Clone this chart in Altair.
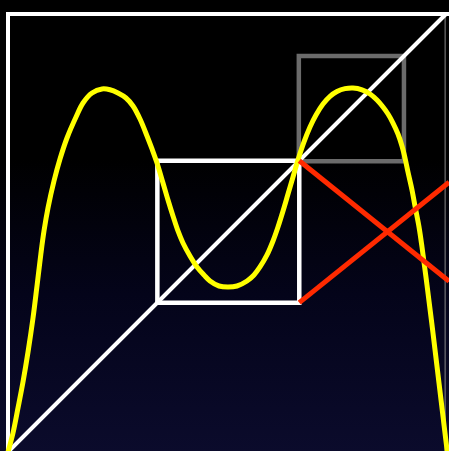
import altair as alt
import pandas as pd

# Double-humped map sampled along its graph (x in [0, 1], y in [0, 1])
curve_x = [0.0, 0.0114, 0.0228, 0.0342, 0.0457, 0.0571, 0.0662, 0.0753, 0.0822,
           0.0913, 0.1050, 0.1187, 0.1347, 0.1553, 0.1712, 0.1918, 0.2146, 0.2329,
           0.2511, 0.2694, 0.2854, 0.3014, 0.3174, 0.3288, 0.3402, 0.3539, 0.3653,
           0.3767, 0.3881, 0.3995, 0.4155, 0.4315, 0.4475, 0.4612, 0.4817, 0.5023,
           0.5228, 0.5457, 0.5616, 0.5753, 0.5913, 0.6050, 0.6164, 0.6279, 0.6393,
           0.6507, 0.6621, 0.6758, 0.6895, 0.7032, 0.7192, 0.7352, 0.7511, 0.7694,
           0.7877, 0.8082, 0.8265, 0.8425, 0.8562, 0.8676, 0.8790, 0.8904, 0.8995,
           0.9064, 0.9132, 0.9224, 0.9292, 0.9384, 0.9452, 0.9566, 0.9703, 0.9840,
           0.9977, 1.0030]
curve_y = [0.0, 0.0434, 0.1005, 0.1598, 0.2283, 0.3059, 0.3790, 0.4543, 0.5046,
           0.5571, 0.6187, 0.6689, 0.7169, 0.7648, 0.7968, 0.8196, 0.8288, 0.8270,
           0.8196, 0.8082, 0.7900, 0.7603, 0.7215, 0.6918, 0.6598, 0.6142, 0.5753,
           0.5388, 0.5046, 0.4772, 0.4475, 0.4224, 0.4041, 0.3904, 0.3790, 0.3767,
           0.3790, 0.3904, 0.4041, 0.4224, 0.4498, 0.4817, 0.5137, 0.5502, 0.5890,
           0.6279, 0.6667, 0.7078, 0.7420, 0.7694, 0.7945, 0.8120, 0.8230, 0.8295,
           0.8311, 0.8270, 0.8174, 0.8037, 0.7877, 0.7717, 0.7511, 0.7260, 0.6986,
           0.6712, 0.6393, 0.5982, 0.5616, 0.5137, 0.4680, 0.3813, 0.2717, 0.1575,
           0.0434, 0.0]

# Boxes: inner (white) and upper-right (grey), as [lo, hi] on both axes
inner_box = [0.341, 0.665]
upper_box = [0.664, 0.904]

# Flipped-diagonal guides from the inner box's right corners
red_x = [0.665, 1.007]
red_a_y = [0.665, 0.390]
red_b_y = [0.341, 0.616]

SIZE = 438
X = alt.Scale(domain=[0, 1])
Y = alt.Scale(domain=[0, 1])


def box_df(lo, hi):
    return pd.DataFrame({
        "x": [lo, hi, hi, lo, lo],
        "y": [lo, lo, hi, hi, lo],
        "o": [0, 1, 2, 3, 4],
    })


def path(df, color, width, cap="square"):
    return alt.Chart(df).mark_line(
        color=color, strokeWidth=width, clip=False, strokeCap=cap, strokeJoin="miter"
    ).encode(
        x=alt.X("x:Q", scale=X, axis=None),
        y=alt.Y("y:Q", scale=Y, axis=None),
        order="o:Q",
    )


bg = alt.Chart(pd.DataFrame({"a": [0]})).mark_rect(
    clip=False,
    color=alt.Gradient(
        gradient="linear",
        x1=0, y1=0, x2=0, y2=1,
        stops=[
            alt.GradientStop(color="#000000", offset=0),
            alt.GradientStop(color="#000000", offset=0.35),
            alt.GradientStop(color="#04041a", offset=0.65),
            alt.GradientStop(color="#0b0b2c", offset=1),
        ],
    ),
).encode(
    x=alt.value(-8), x2=alt.value(SIZE + 3),
    y=alt.value(-14), y2=alt.value(SIZE + 2),
)

frame_left = path(pd.DataFrame({"x": [0, 0], "y": [-0.01, 1.0], "o": [0, 1]}), "white", 4)
frame_top = path(pd.DataFrame({"x": [0, 1.01], "y": [1, 1], "o": [0, 1]}), "white", 4)
frame_right = path(pd.DataFrame({"x": [0.998, 0.998], "y": [-0.01, 0.995], "o": [0, 1]}), "#8a8a8a", 1)

grey_box = path(box_df(*upper_box), "#6b6b6b", 4.5)
white_box = path(box_df(*inner_box), "white", 4.5)
diagonal = path(pd.DataFrame({"x": [0, 1], "y": [0, 1], "o": [0, 1]}), "white", 4, cap="butt")

curve = alt.Chart(pd.DataFrame({"x": curve_x, "y": curve_y, "o": range(len(curve_x))})).mark_line(
    color="#ffff00", strokeWidth=5, interpolate="catmull-rom", clip=False
).encode(
    x=alt.X("x:Q", scale=X, axis=None),
    y=alt.Y("y:Q", scale=Y, axis=None),
    order="o:Q",
)

red_a = path(pd.DataFrame({"x": red_x, "y": red_a_y, "o": [0, 1]}), "#ff2a00", 5, cap="butt")
red_b = path(pd.DataFrame({"x": red_x, "y": red_b_y, "o": [0, 1]}), "#ff2a00", 5, cap="butt")

chart = alt.layer(
    bg, grey_box, frame_left, frame_top, frame_right, white_box, diagonal, curve, red_a, red_b
).properties(
    width=SIZE, height=SIZE,
    padding={"left": 8, "top": 14, "right": 3, "bottom": 0},
    autosize=alt.AutoSizeParams(type="none"),
    background="#000000",
).configure_view(strokeWidth=0)

chart.save("out.html", embed_options={"renderer": "svg", "actions": False})
